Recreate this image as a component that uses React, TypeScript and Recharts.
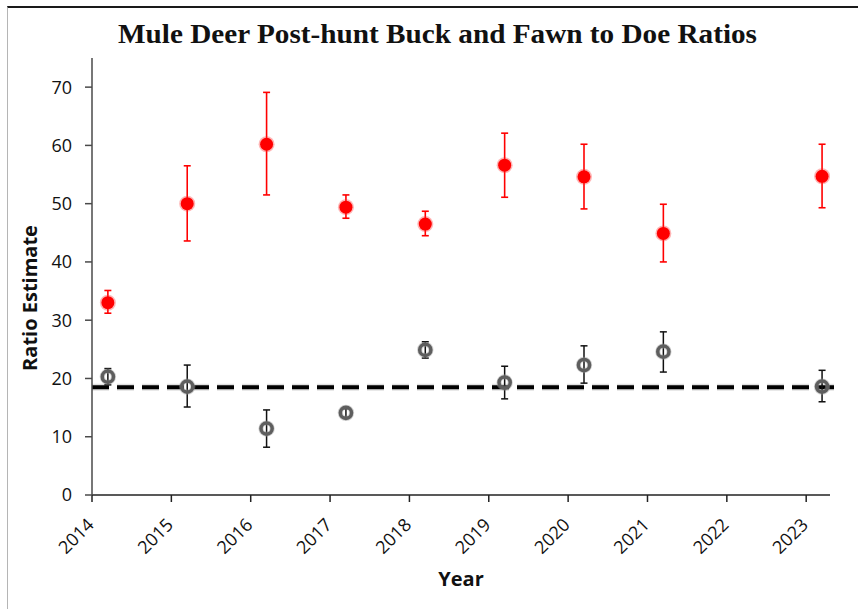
import React from "react";
import { ScatterChart, Scatter, XAxis, YAxis, ErrorBar, ReferenceLine } from "recharts";

const years = [2014, 2015, 2016, 2017, 2018, 2019, 2020, 2021, 2023];
const fawnRatio = [33.0, 50.0, 60.2, 49.4, 46.5, 56.6, 54.6, 44.9, 54.7];
const fawnLow = [31.2, 43.6, 51.5, 47.5, 44.5, 51.1, 49.1, 40.0, 49.3];
const fawnHigh = [35.1, 56.5, 69.1, 51.5, 48.7, 62.1, 60.2, 49.9, 60.2];
const buckRatio = [20.3, 18.6, 11.4, 14.1, 24.9, 19.3, 22.3, 24.6, 18.6];
const buckLow = [18.9, 15.1, 8.2, 13.3, 23.5, 16.5, 19.2, 21.1, 16.0];
const buckHigh = [21.7, 22.3, 14.6, 14.8, 26.3, 22.1, 25.6, 28.0, 21.4];
const buckMean = 18.5;
const xTicks = [2014, 2015, 2016, 2017, 2018, 2019, 2020, 2021, 2022, 2023];
const yTicks = [0, 10, 20, 30, 40, 50, 60, 70];

// points sit a little to the right of each year tick
const OFFSET = 0.2;

const fawnData = years.map((yr, i) => ({
  x: yr + OFFSET,
  y: fawnRatio[i],
  err: [fawnRatio[i] - fawnLow[i], fawnHigh[i] - fawnRatio[i]],
}));
const buckData = years.map((yr, i) => ({
  x: yr + OFFSET,
  y: buckRatio[i],
  err: [buckRatio[i] - buckLow[i], buckHigh[i] - buckRatio[i]],
}));

const RedDot = (props: any) => {
  const { cx, cy } = props;
  return (
    <g>
      <circle cx={cx} cy={cy} r={8} fill="#ff2a2a" opacity={0.35} />
      <circle cx={cx} cy={cy} r={6.5} fill="#ff0000" />
    </g>
  );
};

const GrayRing = (props: any) => {
  const { cx, cy } = props;
  return (
    <g>
      <circle cx={cx} cy={cy} r={5.6} fill="none" stroke="#9a9a9a" strokeWidth={5.2} opacity={0.45} />
      <circle cx={cx} cy={cy} r={5.6} fill="none" stroke="#5e5e5e" strokeWidth={3.5} />
    </g>
  );
};

const YearTick = (props: any) => {
  const { x, y, payload } = props;
  return (
    <text
      x={x + 3}
      y={y + 22}
      transform={`rotate(-45 ${x + 3} ${y + 22})`}
      textAnchor="end"
      fontFamily="Open Sans"
      fontSize={18}
      fill="#111"
    >
      {payload.value}
    </text>
  );
};

export default function App() {
  return (
    <div style={{ position: "absolute", left: 0, top: 0, width: 858, height: 609, background: "#fff" }}>
      <div
        style={{
          position: "absolute",
          left: 7,
          top: 6,
          width: 851,
          height: 603,
          borderTop: "2px solid #1a1a1a",
          borderLeft: "1px solid #b5b5b5",
        }}
      />
      <div style={{ position: "absolute", left: 0, top: 0 }}>
        <ScatterChart width={858} height={609} margin={{ top: 58, right: 28, bottom: 54, left: 42 }}>
          <text
            x={437.5}
            y={43}
            textAnchor="middle"
            fontFamily="Liberation Serif"
            fontWeight="bold"
            fontSize={27}
            fill="#111"
            textLength={639}
            lengthAdjust="spacingAndGlyphs"
          >
            Mule Deer Post-hunt Buck and Fawn to Doe Ratios
          </text>
          <text
            x={37}
            y={298}
            transform="rotate(-90 37 298)"
            textAnchor="middle"
            fontFamily="Open Sans"
            fontWeight="bold"
            fontSize={20}
            fill="#111"
          >
            Ratio Estimate
          </text>
          <text
            x={461}
            y={586}
            textAnchor="middle"
            fontFamily="Open Sans"
            fontWeight="bold"
            fontSize={20}
            fill="#111"
          >
            Year
          </text>
          <XAxis
            type="number"
            dataKey="x"
            domain={[2014, 2023.3]}
            ticks={xTicks}
            allowDataOverflow
            height={60}
            tick={<YearTick />}
            tickSize={7}
            axisLine={{ stroke: "#222", strokeWidth: 1.5 }}
            tickLine={{ stroke: "#222", strokeWidth: 1.5 }}
            interval={0}
          />
          <YAxis
            type="number"
            dataKey="y"
            domain={[0, 75]}
            ticks={yTicks}
            width={50}
            tickSize={7}
            tickMargin={13}
            tick={{ fontFamily: "Open Sans", fontSize: 18, fill: "#111" }}
            axisLine={{ stroke: "#4a4a4a", strokeWidth: 1.5 }}
            tickLine={{ stroke: "#4a4a4a", strokeWidth: 1.5 }}
          />
          <ReferenceLine
            segment={[{ x: 2014, y: buckMean }, { x: 2023.43, y: buckMean }]}
            ifOverflow="visible"
            stroke="#000"
            strokeOpacity={0.12}
            strokeWidth={7}
            strokeDasharray="17 8"
          />
          <ReferenceLine
            segment={[{ x: 2014, y: buckMean }, { x: 2023.43, y: buckMean }]}
            ifOverflow="visible"
            stroke="#000"
            strokeWidth={4}
            strokeDasharray="17 8"
          />
          <Scatter data={fawnData} shape={<RedDot />} isAnimationActive={false}>
            <ErrorBar dataKey="err" direction="y" width={3.5} stroke="#ff0000" strokeWidth={1.6} />
          </Scatter>
          <Scatter data={buckData} shape={<GrayRing />} isAnimationActive={false}>
            <ErrorBar dataKey="err" direction="y" width={3.5} stroke="#111" strokeWidth={1.5} />
          </Scatter>
        </ScatterChart>
      </div>
    </div>
  );
}
